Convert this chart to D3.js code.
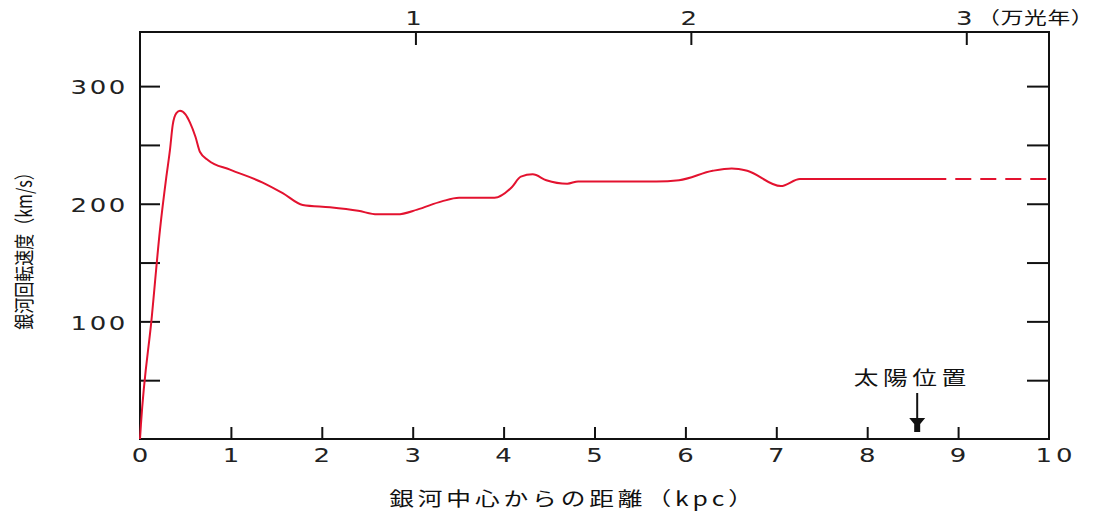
<!DOCTYPE html>
<html>
<head>
<meta charset="utf-8">
<script src="https://cdn.jsdelivr.net/npm/d3@7"></script>
<style>
  body { margin: 0; background: #fff; }
  svg text { font-family: "DejaVu Sans", sans-serif; fill: #222; }
  .jp { font-family: "Noto Sans CJK JP", sans-serif; fill: #111; }
</style>
</head>
<body>
<svg width="1110" height="515"></svg>
<script>
// rotation curve, kpc -> km/s
const radius = [0, 0.01, 0.13, 0.22, 0.29, 0.33, 0.36, 0.40, 0.44, 0.50, 0.55, 0.61, 0.66, 0.75, 0.99,
  1.35, 1.57, 1.79, 2.09, 2.4, 2.61, 2.83, 3.05, 3.32, 3.51, 3.9, 4.09, 4.19, 4.32, 4.47, 4.7, 4.82,
  5.68, 5.93, 6.3, 6.51, 6.68, 7.05, 7.26, 8.87]
const speed = [0, 12, 104, 178, 223, 246, 267, 277, 279, 276, 269, 257, 244, 237, 229,
  218, 209, 199, 197, 194, 191, 191, 195, 202, 205, 205, 214, 223, 225, 220, 217, 219,
  219, 220, 228, 230, 228, 215, 221, 221]
const dashedRadius = [8.87, 10]
const dashedSpeed = [221, 221]
const xTicks = [0, 1, 2, 3, 4, 5, 6, 7, 8, 9, 10]
const yTicks = [50, 100, 150, 200, 250, 300]
const yLabels = [100, 200, 300]
const lyTicks = [1, 2, 3]   // 万光年
const sunPos = 8.55
const kpcPerLy = 3.03       // 1万光年 in kpc, as drawn

const svg = d3.select('svg')
const xs = d3.scaleLinear().domain([0, 10]).range([140, 1049])
const ys = d3.scaleLinear().domain([0, 346]).range([439, 32])
const SX = 1.3   // the original bitmap is stretched sideways

// text stretched horizontally like the original
function label(x, y, txt, size, ls, anchor, cls) {
  const g = svg.append('g').attr('transform', `translate(${x},${y}) scale(${SX},1)`)
  return g.append('text')
    .attr('class', cls || null)
    .attr('text-anchor', anchor)
    .attr('dy', '0.36em')
    .attr('font-size', size)
    .attr('letter-spacing', ls)
    .text(txt)
}

function styleAxis(g) {
  g.select('.domain').remove()
  g.selectAll('line').attr('stroke', '#111').attr('stroke-width', 2)
}

svg.append('g').attr('transform', 'translate(140,0)')
  .call(d3.axisLeft(ys).tickValues(yTicks).tickSize(-20).tickFormat(''))
  .call(styleAxis)
svg.append('g').attr('transform', 'translate(1049,0)')
  .call(d3.axisRight(ys).tickValues(yTicks).tickSize(-22).tickFormat(''))
  .call(styleAxis)
svg.append('g').attr('transform', 'translate(0,439)')
  .call(d3.axisBottom(xs).tickValues(xTicks.slice(1, -1)).tickSize(-12).tickFormat(''))
  .call(styleAxis)
const xly = d3.scaleLinear().domain([0, 10 / kpcPerLy]).range([140, 1049])
svg.append('g').attr('transform', 'translate(0,32)')
  .call(d3.axisTop(xly).tickValues(lyTicks).tickSize(-13).tickFormat(''))
  .call(styleAxis)

// tick labels
yLabels.forEach(d => label(128, ys(d) + 1, d, 20, 2, 'end'))
xTicks.forEach(d => label(xs(d) + (d > 9 ? 7 : 0), 455, d, 20, d > 9 ? 3 : 0, 'middle'))
lyTicks.forEach(d => label(xly(d) - 2, 18, d, 20, 0, 'middle'))
label(xly(3) + 11, 18, '（万光年）', 17.5, 0.5, 'start', 'jp')

// frame
svg.append('rect')
  .attr('x', xs(0)).attr('y', ys(346))
  .attr('width', xs(10) - xs(0)).attr('height', ys(0) - ys(346))
  .attr('fill', 'none').attr('stroke', '#111').attr('stroke-width', 2)

// curve
const line = d3.line().x(d => xs(d[0])).y(d => ys(d[1])).curve(d3.curveMonotoneX)
svg.append('path')
  .datum(radius.map((r, i) => [r, speed[i]]))
  .attr('d', line)
  .attr('fill', 'none').attr('stroke', '#e3122f').attr('stroke-width', 2)
svg.append('path')
  .datum(dashedRadius.map((r, i) => [r, dashedSpeed[i]]))
  .attr('d', line)
  .attr('fill', 'none').attr('stroke', '#e3122f').attr('stroke-width', 2)
  .attr('stroke-dasharray', '16,9').attr('stroke-dashoffset', -9)

// sun position
const sx = xs(sunPos)
svg.append('line').attr('x1', sx).attr('x2', sx).attr('y1', 393).attr('y2', 420)
  .attr('stroke', '#111').attr('stroke-width', 2)
svg.append('path')
  .attr('d', `M${sx - 8},418 L${sx + 8},418 L${sx + 3},424 L${sx + 3},432 L${sx - 3},432 L${sx - 3},424 Z`)
  .attr('fill', '#111')
label(sx - 5, 378, '太陽位置', 19, 3.5, 'middle', 'jp')

// axis titles
label(573, 499, '銀河中心からの距離（kpc）', 19, 3, 'middle', 'jp')
svg.append('g').attr('transform', `translate(25,247) scale(${SX},1) rotate(-90)`)
  .append('text').attr('class', 'jp')
  .attr('text-anchor', 'middle').attr('dy', '0.36em')
  .attr('font-size', 16)
  .text('銀河回転速度（km/s）')
</script>
</body>
</html>
